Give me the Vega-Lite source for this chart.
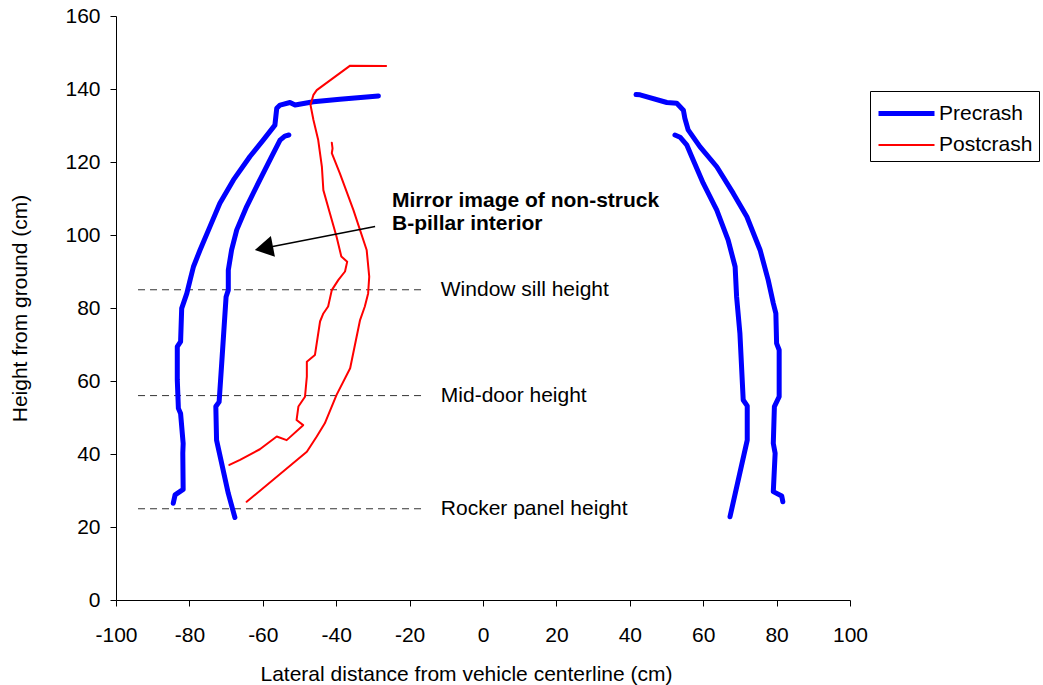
{
  "$schema": "https://vega.github.io/schema/vega-lite/v6.json",
  "width": 734,
  "height": 584,
  "autosize": {"type": "none"},
  "padding": {"left": 116, "top": 16, "right": 193, "bottom": 85},
  "background": "white",
  "config": {
    "view": {"stroke": null},
    "font": "Liberation Sans",
    "axis": {
      "domainColor": "black", "domainWidth": 1, "tickColor": "black", "tickWidth": 1,
      "labelFont": "Liberation Sans", "labelFontSize": 21, "labelColor": "black",
      "titleFont": "Liberation Sans", "titleFontSize": 21, "titleFontWeight": "normal", "titleColor": "black",
      "grid": false, "labelFlush": false, "labelOverlap": false, "labelBound": false
    }
  },
  "datasets": {
    "lines": [
      {"series":"Precrash","seg":"LO","i":0,"x":-84.4,"y":26.5},
      {"series":"Precrash","seg":"LO","i":1,"x":-83.9,"y":28.8},
      {"series":"Precrash","seg":"LO","i":2,"x":-81.7,"y":30.3},
      {"series":"Precrash","seg":"LO","i":3,"x":-81.8,"y":40.2},
      {"series":"Precrash","seg":"LO","i":4,"x":-81.7,"y":42.9},
      {"series":"Precrash","seg":"LO","i":5,"x":-82.4,"y":51.1},
      {"series":"Precrash","seg":"LO","i":6,"x":-83.0,"y":52.5},
      {"series":"Precrash","seg":"LO","i":7,"x":-83.3,"y":60.3},
      {"series":"Precrash","seg":"LO","i":8,"x":-83.3,"y":69.4},
      {"series":"Precrash","seg":"LO","i":9,"x":-82.4,"y":70.8},
      {"series":"Precrash","seg":"LO","i":10,"x":-82.1,"y":79.9},
      {"series":"Precrash","seg":"LO","i":11,"x":-80.7,"y":84.0},
      {"series":"Precrash","seg":"LO","i":12,"x":-79.8,"y":87.7},
      {"series":"Precrash","seg":"LO","i":13,"x":-78.9,"y":91.3},
      {"series":"Precrash","seg":"LO","i":14,"x":-77.1,"y":95.9},
      {"series":"Precrash","seg":"LO","i":15,"x":-74.4,"y":102.3},
      {"series":"Precrash","seg":"LO","i":16,"x":-71.7,"y":108.7},
      {"series":"Precrash","seg":"LO","i":17,"x":-68.0,"y":115.1},
      {"series":"Precrash","seg":"LO","i":18,"x":-63.5,"y":121.5},
      {"series":"Precrash","seg":"LO","i":19,"x":-59.9,"y":126.0},
      {"series":"Precrash","seg":"LO","i":20,"x":-56.7,"y":130.1},
      {"series":"Precrash","seg":"LO","i":21,"x":-56.2,"y":134.7},
      {"series":"Precrash","seg":"LO","i":22,"x":-55.3,"y":135.6},
      {"series":"Precrash","seg":"LO","i":23,"x":-52.6,"y":136.3},
      {"series":"Precrash","seg":"LO","i":24,"x":-51.2,"y":135.6},
      {"series":"Precrash","seg":"LO","i":25,"x":-46.2,"y":136.5},
      {"series":"Precrash","seg":"LO","i":26,"x":-39.0,"y":137.2},
      {"series":"Precrash","seg":"LO","i":27,"x":-28.5,"y":138.1},
      {"series":"Precrash","seg":"LI","i":0,"x":-67.6,"y":22.6},
      {"series":"Precrash","seg":"LI","i":1,"x":-69.4,"y":29.2},
      {"series":"Precrash","seg":"LI","i":2,"x":-72.6,"y":43.8},
      {"series":"Precrash","seg":"LI","i":3,"x":-72.8,"y":53.0},
      {"series":"Precrash","seg":"LI","i":4,"x":-71.9,"y":54.3},
      {"series":"Precrash","seg":"LI","i":5,"x":-71.2,"y":64.8},
      {"series":"Precrash","seg":"LI","i":6,"x":-70.0,"y":83.1},
      {"series":"Precrash","seg":"LI","i":7,"x":-69.4,"y":84.9},
      {"series":"Precrash","seg":"LI","i":8,"x":-69.4,"y":87.7},
      {"series":"Precrash","seg":"LI","i":9,"x":-69.4,"y":90.4},
      {"series":"Precrash","seg":"LI","i":10,"x":-68.5,"y":95.9},
      {"series":"Precrash","seg":"LI","i":11,"x":-67.1,"y":101.4},
      {"series":"Precrash","seg":"LI","i":12,"x":-64.4,"y":107.8},
      {"series":"Precrash","seg":"LI","i":13,"x":-60.8,"y":115.1},
      {"series":"Precrash","seg":"LI","i":14,"x":-57.6,"y":121.5},
      {"series":"Precrash","seg":"LI","i":15,"x":-55.3,"y":126.0},
      {"series":"Precrash","seg":"LI","i":16,"x":-54.0,"y":127.1},
      {"series":"Precrash","seg":"LI","i":17,"x":-52.9,"y":127.4},
      {"series":"Precrash","seg":"RO","i":0,"x":81.7,"y":26.9},
      {"series":"Precrash","seg":"RO","i":1,"x":81.4,"y":28.5},
      {"series":"Precrash","seg":"RO","i":2,"x":79.1,"y":29.7},
      {"series":"Precrash","seg":"RO","i":3,"x":79.6,"y":40.2},
      {"series":"Precrash","seg":"RO","i":4,"x":79.1,"y":42.9},
      {"series":"Precrash","seg":"RO","i":5,"x":79.4,"y":53.0},
      {"series":"Precrash","seg":"RO","i":6,"x":80.7,"y":55.7},
      {"series":"Precrash","seg":"RO","i":7,"x":80.7,"y":68.5},
      {"series":"Precrash","seg":"RO","i":8,"x":80.0,"y":70.3},
      {"series":"Precrash","seg":"RO","i":9,"x":79.8,"y":78.5},
      {"series":"Precrash","seg":"RO","i":10,"x":79.1,"y":81.3},
      {"series":"Precrash","seg":"RO","i":11,"x":77.7,"y":87.7},
      {"series":"Precrash","seg":"RO","i":12,"x":75.5,"y":95.9},
      {"series":"Precrash","seg":"RO","i":13,"x":71.9,"y":105.0},
      {"series":"Precrash","seg":"RO","i":14,"x":68.2,"y":111.4},
      {"series":"Precrash","seg":"RO","i":15,"x":63.7,"y":118.7},
      {"series":"Precrash","seg":"RO","i":16,"x":59.1,"y":124.2},
      {"series":"Precrash","seg":"RO","i":17,"x":55.9,"y":128.8},
      {"series":"Precrash","seg":"RO","i":18,"x":55.0,"y":132.0},
      {"series":"Precrash","seg":"RO","i":19,"x":54.6,"y":134.2},
      {"series":"Precrash","seg":"RO","i":20,"x":52.8,"y":136.1},
      {"series":"Precrash","seg":"RO","i":21,"x":50.1,"y":136.3},
      {"series":"Precrash","seg":"RO","i":22,"x":42.8,"y":138.4},
      {"series":"Precrash","seg":"RO","i":23,"x":41.7,"y":138.5},
      {"series":"Precrash","seg":"RI","i":0,"x":52.3,"y":127.4},
      {"series":"Precrash","seg":"RI","i":1,"x":53.7,"y":126.8},
      {"series":"Precrash","seg":"RI","i":2,"x":55.5,"y":124.7},
      {"series":"Precrash","seg":"RI","i":3,"x":57.3,"y":120.5},
      {"series":"Precrash","seg":"RI","i":4,"x":60.0,"y":114.2},
      {"series":"Precrash","seg":"RI","i":5,"x":63.7,"y":106.8},
      {"series":"Precrash","seg":"RI","i":6,"x":66.8,"y":98.6},
      {"series":"Precrash","seg":"RI","i":7,"x":68.7,"y":91.3},
      {"series":"Precrash","seg":"RI","i":8,"x":69.1,"y":83.1},
      {"series":"Precrash","seg":"RI","i":9,"x":70.0,"y":73.1},
      {"series":"Precrash","seg":"RI","i":10,"x":70.9,"y":54.8},
      {"series":"Precrash","seg":"RI","i":11,"x":72.0,"y":53.2},
      {"series":"Precrash","seg":"RI","i":12,"x":72.0,"y":43.8},
      {"series":"Precrash","seg":"RI","i":13,"x":67.3,"y":22.8},
      {"series":"Postcrash","seg":"PA","i":0,"x":-26.4,"y":146.3},
      {"series":"Postcrash","seg":"PA","i":1,"x":-36.2,"y":146.4},
      {"series":"Postcrash","seg":"PA","i":2,"x":-45.3,"y":139.7},
      {"series":"Postcrash","seg":"PA","i":3,"x":-46.2,"y":138.4},
      {"series":"Postcrash","seg":"PA","i":4,"x":-47.0,"y":135.6},
      {"series":"Postcrash","seg":"PA","i":5,"x":-46.2,"y":131.5},
      {"series":"Postcrash","seg":"PA","i":6,"x":-44.9,"y":126.0},
      {"series":"Postcrash","seg":"PA","i":7,"x":-43.9,"y":118.7},
      {"series":"Postcrash","seg":"PA","i":8,"x":-43.5,"y":112.3},
      {"series":"Postcrash","seg":"PA","i":9,"x":-41.7,"y":105.9},
      {"series":"Postcrash","seg":"PA","i":10,"x":-39.9,"y":99.5},
      {"series":"Postcrash","seg":"PA","i":11,"x":-38.6,"y":94.1},
      {"series":"Postcrash","seg":"PA","i":12,"x":-37.0,"y":92.7},
      {"series":"Postcrash","seg":"PA","i":13,"x":-37.6,"y":90.0},
      {"series":"Postcrash","seg":"PA","i":14,"x":-39.4,"y":87.7},
      {"series":"Postcrash","seg":"PA","i":15,"x":-41.2,"y":84.9},
      {"series":"Postcrash","seg":"PA","i":16,"x":-42.2,"y":80.4},
      {"series":"Postcrash","seg":"PA","i":17,"x":-43.5,"y":78.5},
      {"series":"Postcrash","seg":"PA","i":18,"x":-44.4,"y":76.3},
      {"series":"Postcrash","seg":"PA","i":19,"x":-45.8,"y":67.1},
      {"series":"Postcrash","seg":"PA","i":20,"x":-48.0,"y":65.3},
      {"series":"Postcrash","seg":"PA","i":21,"x":-48.0,"y":61.2},
      {"series":"Postcrash","seg":"PA","i":22,"x":-48.5,"y":55.7},
      {"series":"Postcrash","seg":"PA","i":23,"x":-50.3,"y":53.0},
      {"series":"Postcrash","seg":"PA","i":24,"x":-50.8,"y":49.3},
      {"series":"Postcrash","seg":"PA","i":25,"x":-49.0,"y":47.9},
      {"series":"Postcrash","seg":"PA","i":26,"x":-53.5,"y":43.8},
      {"series":"Postcrash","seg":"PA","i":27,"x":-56.2,"y":44.8},
      {"series":"Postcrash","seg":"PA","i":28,"x":-60.8,"y":41.3},
      {"series":"Postcrash","seg":"PA","i":29,"x":-66.2,"y":38.4},
      {"series":"Postcrash","seg":"PA","i":30,"x":-69.1,"y":37.0},
      {"series":"Postcrash","seg":"PB","i":0,"x":-41.2,"y":125.3},
      {"series":"Postcrash","seg":"PB","i":1,"x":-41.0,"y":123.7},
      {"series":"Postcrash","seg":"PB","i":2,"x":-41.2,"y":122.4},
      {"series":"Postcrash","seg":"PB","i":3,"x":-39.0,"y":116.9},
      {"series":"Postcrash","seg":"PB","i":4,"x":-35.3,"y":106.8},
      {"series":"Postcrash","seg":"PB","i":5,"x":-31.7,"y":95.9},
      {"series":"Postcrash","seg":"PB","i":6,"x":-31.0,"y":88.6},
      {"series":"Postcrash","seg":"PB","i":7,"x":-31.3,"y":84.0},
      {"series":"Postcrash","seg":"PB","i":8,"x":-32.2,"y":80.4},
      {"series":"Postcrash","seg":"PB","i":9,"x":-33.5,"y":76.7},
      {"series":"Postcrash","seg":"PB","i":10,"x":-36.2,"y":63.5},
      {"series":"Postcrash","seg":"PB","i":11,"x":-39.9,"y":56.2},
      {"series":"Postcrash","seg":"PB","i":12,"x":-43.1,"y":48.4},
      {"series":"Postcrash","seg":"PB","i":13,"x":-45.3,"y":44.8},
      {"series":"Postcrash","seg":"PB","i":14,"x":-48.0,"y":40.6},
      {"series":"Postcrash","seg":"PB","i":15,"x":-64.4,"y":26.9}
    ],
    "refs": [
      {"x":-94,"x2":-16,"y":85,"lx":-11.5,"label":"Window sill height"},
      {"x":-94,"x2":-16,"y":56,"lx":-11.5,"label":"Mid-door height"},
      {"x":-94,"x2":-16,"y":25,"lx":-11.5,"label":"Rocker panel height"}
    ],
    "notes": [
      {"x":-24.8,"y":109.3,"label":"Mirror image of non-struck"},
      {"x":-24.8,"y":103.0,"label":"B-pillar interior"}
    ],
    "arrow": [
      {"x":-29.4,"y":102.3,"x2":-58.0,"y2":96.7,"hx":-59.7,"hy":96.4}
    ]
  },
  "layer": [
    {
      "data": {"name": "refs"},
      "mark": {"type": "rule", "color": "#333333", "strokeWidth": 1, "strokeDash": [7, 5]},
      "encoding": {
        "x": {"field": "x", "type": "quantitative", "scale": {"domain": [-100, 100], "nice": false, "zero": false}, "title": "Lateral distance from vehicle centerline (cm)",
          "axis": {
            "values": [-100,-90,-80,-70,-60,-50,-40,-30,-20,-10,0,10,20,30,40,50,60,70,80,90,100],
            "labelExpr": "datum.value % 20 === 0 ? toString(datum.value) : ''",
            "tickSize": {"condition": {"test": "datum.value % 20 !== 0", "value": 4}, "value": 6},
            "labelPadding": 18, "titlePadding": 18, "titleX": 350
          }},
        "x2": {"field": "x2"},
        "y": {"field": "y", "type": "quantitative", "scale": {"domain": [0, 160], "nice": false, "zero": false}, "title": "Height from ground (cm)",
          "axis": {
            "values": [0,10,20,30,40,50,60,70,80,90,100,110,120,130,140,150,160],
            "labelExpr": "datum.value % 20 === 0 ? toString(datum.value) : ''",
            "tickSize": {"condition": {"test": "datum.value % 20 !== 0", "value": 4}, "value": 6},
            "labelPadding": 10, "titlePadding": 34
          }}
      }
    },
    {
      "data": {"name": "refs"},
      "mark": {"type": "text", "align": "left", "baseline": "middle", "fontSize": 21, "font": "Liberation Sans", "color": "black"},
      "encoding": {
        "x": {"field": "lx", "type": "quantitative", "title": "Lateral distance from vehicle centerline (cm)"},
        "y": {"field": "y", "type": "quantitative", "title": "Height from ground (cm)"},
        "text": {"field": "label"}
      }
    },
    {
      "data": {"name": "lines"},
      "mark": {"type": "line", "strokeCap": "round", "strokeJoin": "round"},
      "encoding": {
        "x": {"field": "x", "type": "quantitative", "title": "Lateral distance from vehicle centerline (cm)"},
        "y": {"field": "y", "type": "quantitative", "title": "Height from ground (cm)"},
        "detail": {"field": "seg"},
        "order": {"field": "i", "type": "quantitative"},
        "color": {"field": "series", "type": "nominal",
          "scale": {"domain": ["Precrash", "Postcrash"], "range": ["#0000FF", "#FF0000"]},
          "legend": {"title": null, "orient": "none", "legendX": 754, "legendY": 75,
            "symbolType": "M-2,0H2", "symbolSize": 784, "symbolOffset": 14, "labelOffset": 16,
            "labelFont": "Liberation Sans", "labelFontSize": 21, "labelColor": "black",
            "strokeColor": "black", "fillColor": "white", "padding": 6, "rowPadding": 6}},
        "strokeWidth": {"field": "series", "type": "nominal",
          "scale": {"domain": ["Precrash", "Postcrash"], "range": [5, 2]},
          "legend": {"title": null, "orient": "none", "legendX": 754, "legendY": 75,
            "symbolType": "M-2,0H2", "symbolSize": 784, "symbolOffset": 14, "labelOffset": 16,
            "labelFont": "Liberation Sans", "labelFontSize": 21, "labelColor": "black",
            "strokeColor": "black", "fillColor": "white", "padding": 6, "rowPadding": 6}}
      }
    },
    {
      "data": {"name": "notes"},
      "mark": {"type": "text", "align": "left", "baseline": "middle", "fontSize": 21, "fontWeight": "bold", "font": "Liberation Sans", "color": "black"},
      "encoding": {
        "x": {"field": "x", "type": "quantitative", "title": "Lateral distance from vehicle centerline (cm)"},
        "y": {"field": "y", "type": "quantitative", "title": "Height from ground (cm)"},
        "text": {"field": "label"}
      }
    },
    {
      "data": {"name": "arrow"},
      "mark": {"type": "rule", "color": "black", "strokeWidth": 1.5},
      "encoding": {
        "x": {"field": "x", "type": "quantitative", "title": "Lateral distance from vehicle centerline (cm)"},
        "y": {"field": "y", "type": "quantitative", "title": "Height from ground (cm)"},
        "x2": {"field": "x2"},
        "y2": {"field": "y2"}
      }
    },
    {
      "data": {"name": "arrow"},
      "mark": {"type": "point", "shape": "triangle-left", "filled": true, "color": "black", "opacity": 1, "size": 450, "angle": 349},
      "encoding": {
        "x": {"field": "hx", "type": "quantitative", "title": "Lateral distance from vehicle centerline (cm)"},
        "y": {"field": "hy", "type": "quantitative", "title": "Height from ground (cm)"}
      }
    }
  ]
}
